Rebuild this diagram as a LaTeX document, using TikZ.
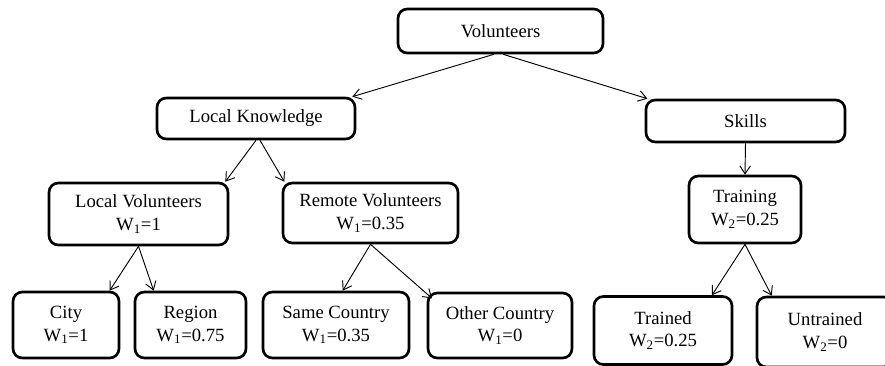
\documentclass[tikz,border=0pt]{standalone}
\usepackage{fontspec}
\setmainfont{Liberation Serif}
\usepackage{tikz}
\usetikzlibrary{arrows.meta}

\begin{document}
\begin{tikzpicture}[x=.75pt, y=-.75pt, font=\fontsize{14}{17}\selectfont,
  box/.style = {draw, line width=2pt, rounded corners=7pt, align=center, inner sep=0pt},
  size/.style 2 args = {minimum width=#1*.75pt, minimum height=#2*.75pt},
  arr/.style = {-{Straight Barb[length=6pt,width=8pt]}, line width=.7pt}]
  \useasboundingbox (0,0) rectangle (885,366);
  % top
  \node[box, size={205}{44}] (vol) at (500.5,31) {Volunteers};
  \node[box, size={198}{41}] (lk) at (256,118.5) {Local Knowledge};
  \node[box, size={199}{42}] (skills) at (745.5,121) {Skills};
  % middle
  \node[box, size={179}{62}] (lv) at (138.5,214) {Local Volunteers\\W\textsubscript{1}=1};
  \node[box, size={175}{60}] (rv) at (370.5,213) {Remote Volunteers\\W\textsubscript{1}=0.35};
  \node[box, size={112}{67}] (train) at (745,209.5) {Training\\W\textsubscript{2}=0.25};
  % bottom
  \node[box, size={106}{66}] (city) at (66,325) {City\\W\textsubscript{1}=1};
  \node[box, size={111}{66}] (region) at (190.5,325) {Region\\W\textsubscript{1}=0.75};
  \node[box, size={146}{66}] (same) at (336,325) {Same Country\\W\textsubscript{1}=0.35};
  \node[box, size={144}{65}] (other) at (500,325.5) {Other Country\\W\textsubscript{1}=0};
  \node[box, size={138}{68}] (trained) at (663,330.5) {Trained\\W\textsubscript{2}=0.25};
  \node[box, size={136}{70}] (untrained) at (825,332) {Untrained\\W\textsubscript{2}=0};
  % arrows
  \draw[arr] ([xshift=-5pt]vol.south) -- ([xshift=-3pt]lk.north east);
  \draw[arr] ([xshift=2pt]vol.south) -- ([xshift=2pt]skills.north west);
  \draw[arr] (lk.south) -- ([xshift=-3pt]lv.north east);
  \draw[arr] ([xshift=3pt]lk.south) -- ([xshift=2pt]rv.north west);
  \draw[arr] (lv.south) -- ([xshift=-8pt]city.north east);
  \draw[arr] (lv.south) -- ([xshift=15pt]region.north west);
  \draw[arr] (rv.south) -- ([xshift=5pt]same.north);
  \draw[arr] (rv.south) -- ([xshift=4pt,yshift=-5pt]other.north west);
  \draw[arr] (skills.south) -- (train.north);
  \draw[arr] (train.south) -- ([xshift=-16pt]trained.north east);
  \draw[arr] (train.south) -- ([xshift=12pt]untrained.north west);
\end{tikzpicture}
\end{document}
